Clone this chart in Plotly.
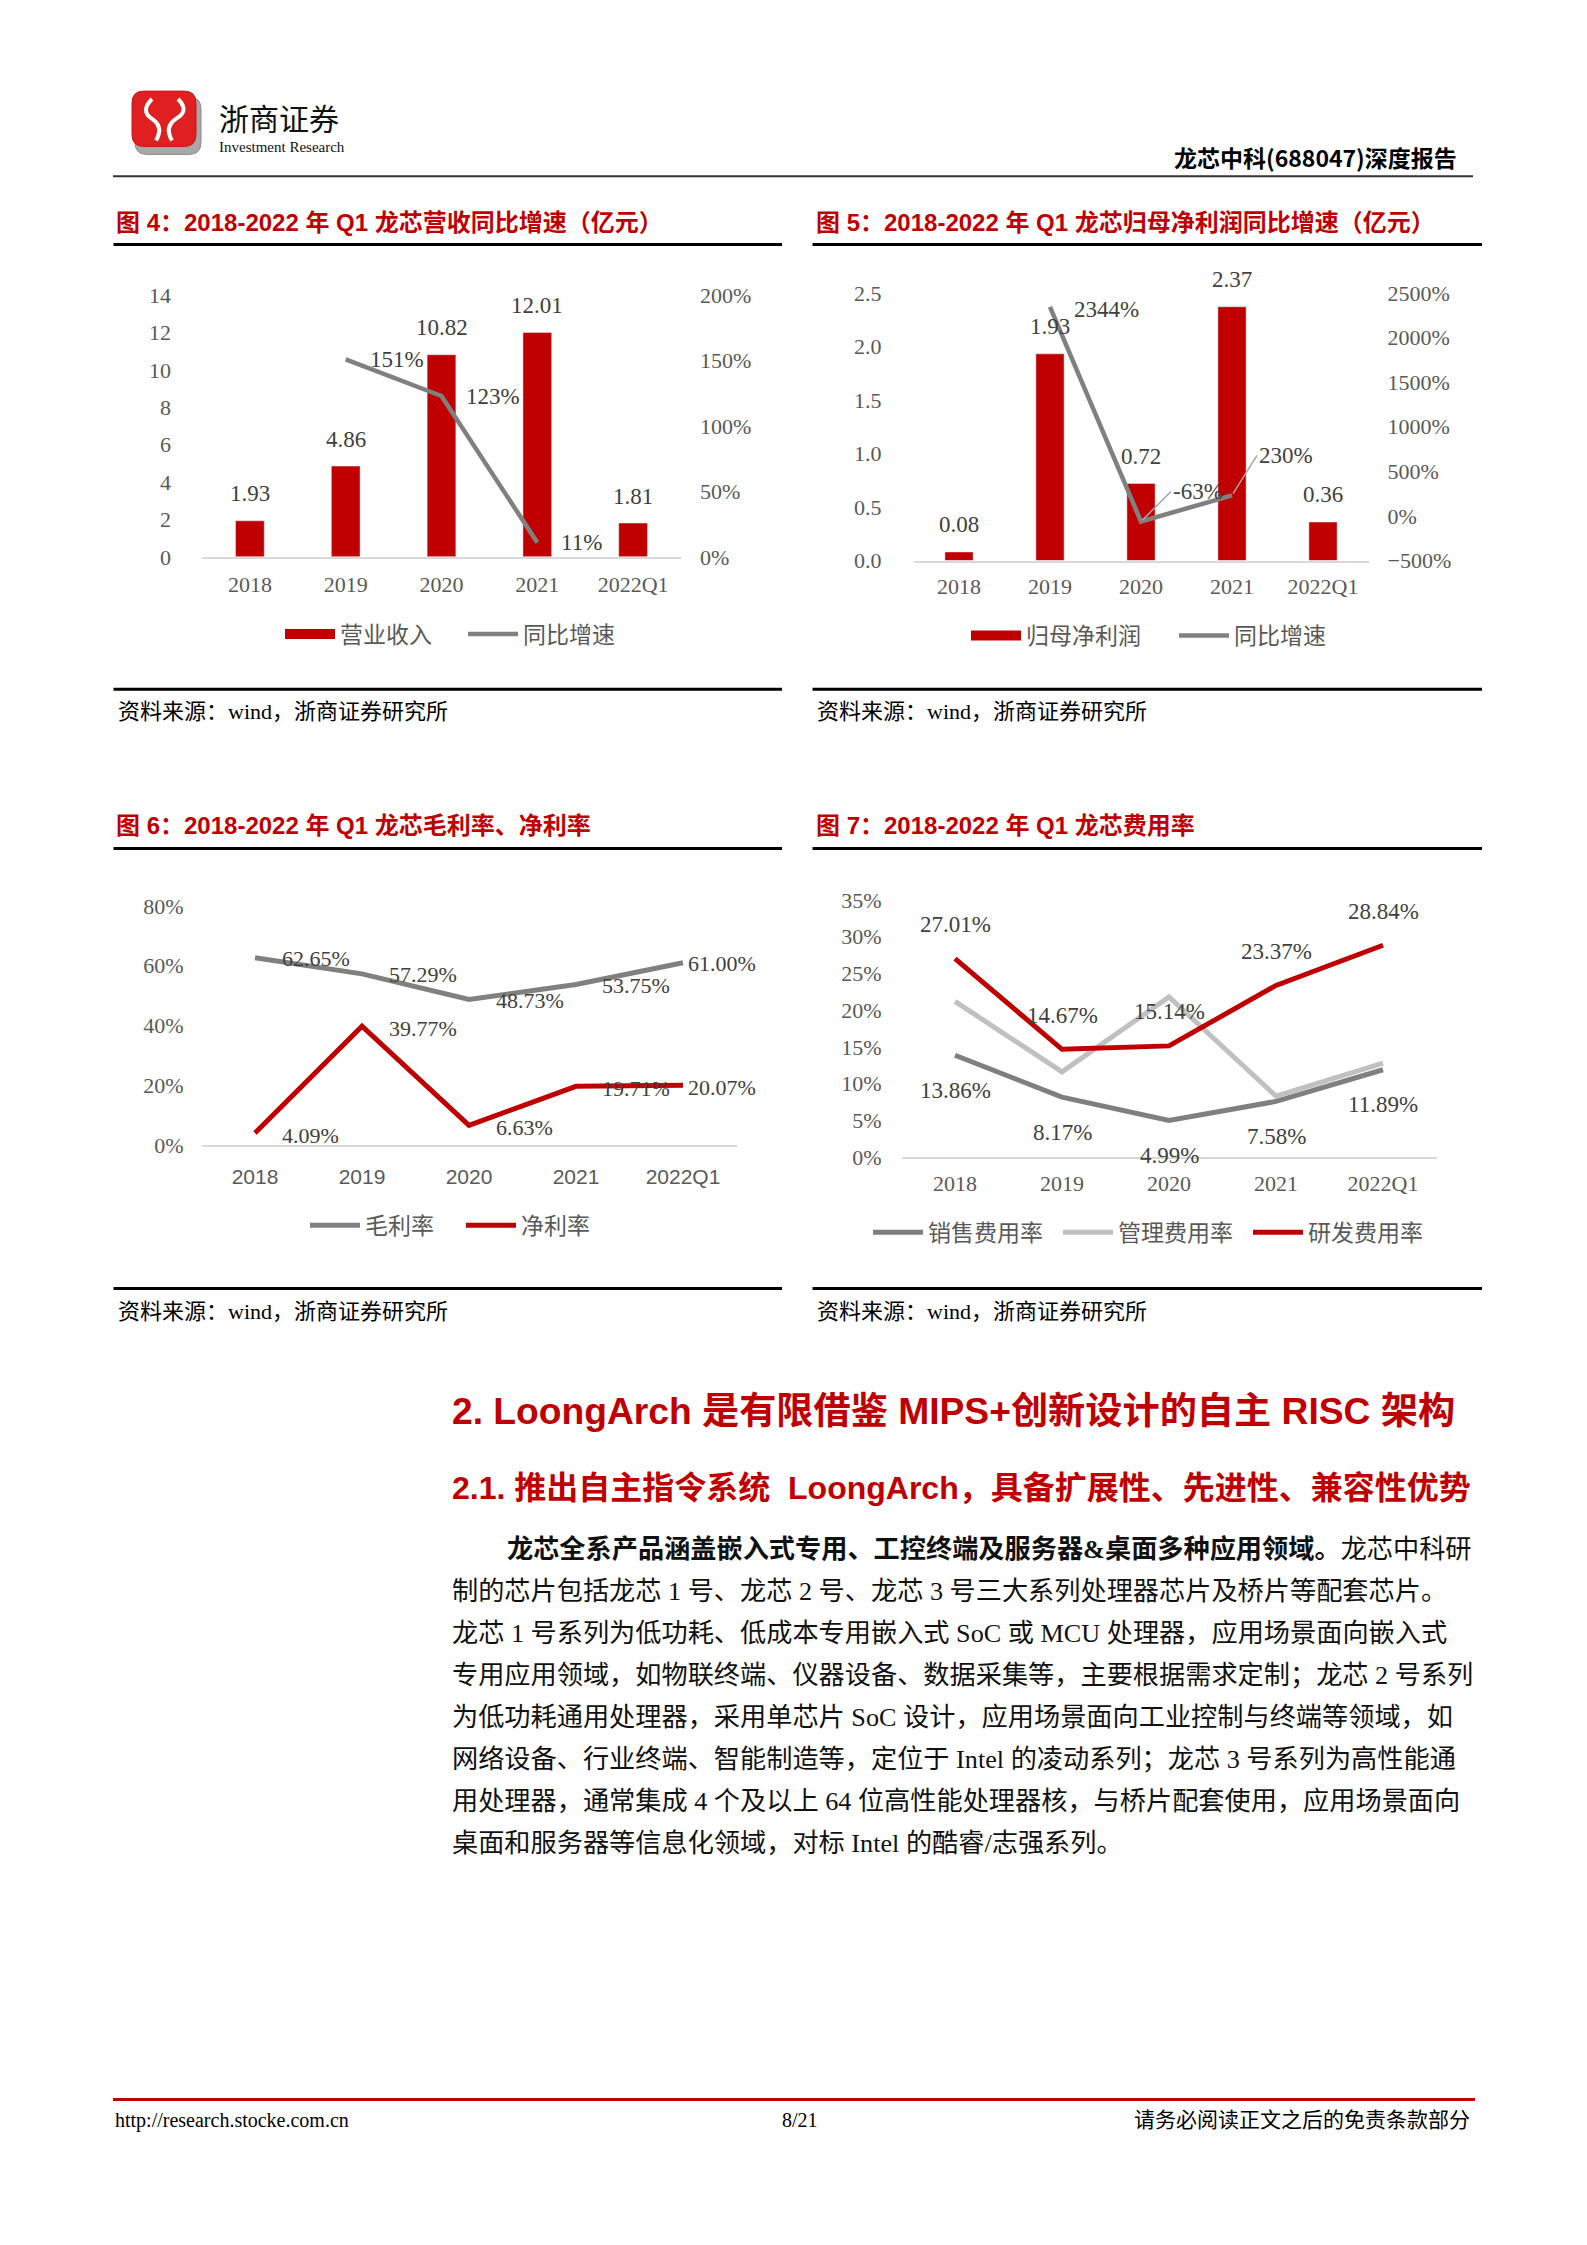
import plotly.graph_objects as go

W, H = 1587, 2245


def px(x):
    return x / W


def py(y):
    return 1 - y / H


# ---------------- data ----------------
years = ["2018", "2019", "2020", "2021", "2022Q1"]
revenue = [1.93, 4.86, 10.82, 12.01, 1.81]
revenue_yoy_years = ["2019", "2020", "2021"]
revenue_yoy = [151, 123, 11]

profit = [0.08, 1.93, 0.72, 2.37, 0.36]
profit_yoy_years = ["2019", "2020", "2021"]
profit_yoy = [2344, -63, 230]

gross_margin = [62.65, 57.29, 48.73, 53.75, 61.00]
net_margin = [4.09, 39.77, 6.63, 19.71, 20.07]

sales_rate = [13.86, 8.17, 4.99, 7.58, 11.89]
admin_rate = [21.2, 11.6, 21.8, 8.3, 12.8]
rd_rate = [27.01, 14.67, 15.14, 23.37, 28.84]

# ---------------- styles ----------------
RED = "#C00000"
GRAY = "#808080"
DGRAY = "#7F7F7F"
LGRAY = "#C0C0C0"
TICK = "#595959"
LBL = "#404040"
SERIF = "Liberation Serif, Noto Sans CJK SC"
SANS = "Liberation Sans, Noto Sans CJK SC"
CJK = "Noto Sans CJK SC"

fig = go.Figure()

# ---- Figure 4 ----
fig.add_trace(go.Bar(x=years, y=revenue, name="营业收入", marker_color=RED, width=0.3,
                     xaxis="x", yaxis="y", showlegend=False))
fig.add_trace(go.Scatter(x=[None], y=[None], name="营业收入", mode="lines",
                         line=dict(color=RED, width=10), xaxis="x", yaxis="y", legend="legend"))
fig.add_trace(go.Scatter(x=revenue_yoy_years, y=revenue_yoy, name="同比增速", mode="lines",
                         line=dict(color=GRAY, width=4.5), xaxis="x", yaxis="y2", legend="legend"))

# ---- Figure 5 ----
fig.add_trace(go.Bar(x=years, y=profit, name="归母净利润", marker_color=RED, width=0.31,
                     xaxis="x2", yaxis="y3", showlegend=False))
fig.add_trace(go.Scatter(x=[None], y=[None], name="归母净利润", mode="lines",
                         line=dict(color=RED, width=10), xaxis="x2", yaxis="y3", legend="legend2"))
fig.add_trace(go.Scatter(x=profit_yoy_years, y=profit_yoy, name="同比增速", mode="lines",
                         line=dict(color=GRAY, width=4.5), xaxis="x2", yaxis="y4", legend="legend2"))

# ---- Figure 6 ----
fig.add_trace(go.Scatter(x=years, y=gross_margin, name="毛利率", mode="lines",
                         line=dict(color=GRAY, width=5), xaxis="x3", yaxis="y5", legend="legend3"))
fig.add_trace(go.Scatter(x=years, y=net_margin, name="净利率", mode="lines",
                         line=dict(color=RED, width=5), xaxis="x3", yaxis="y5", legend="legend3"))

# ---- Figure 7 ----
fig.add_trace(go.Scatter(x=years, y=sales_rate, name="销售费用率", mode="lines",
                         line=dict(color=DGRAY, width=5), xaxis="x4", yaxis="y6", legend="legend4"))
fig.add_trace(go.Scatter(x=years, y=admin_rate, name="管理费用率", mode="lines",
                         line=dict(color=LGRAY, width=5), xaxis="x4", yaxis="y6", legend="legend4"))
fig.add_trace(go.Scatter(x=years, y=rd_rate, name="研发费用率", mode="lines",
                         line=dict(color=RED, width=5), xaxis="x4", yaxis="y6", legend="legend4"))


def xax(x0, x1, anchor, font_family=SERIF, size=22, standoff=6):
    return dict(domain=[px(x0), px(x1)], anchor=anchor, type="category",
                categoryorder="array", categoryarray=years, range=[-0.5, 4.5],
                showline=True, linecolor="#D9D9D9", linewidth=2, ticks="",
                showgrid=False, zeroline=False, fixedrange=True,
                tickfont=dict(family=font_family, size=size, color=TICK),
                ticklabelstandoff=standoff)


def yax(y0, y1, anchor, rng, dtick, standoff, **kw):
    d = dict(domain=[py(y0), py(y1)], anchor=anchor, range=rng, dtick=dtick,
             showgrid=False, zeroline=False, showline=False, ticks="", fixedrange=True,
             tickfont=dict(family=SERIF, size=22, color=TICK), ticklabelstandoff=standoff)
    d.update(kw)
    return d


def yax_r(overlay, anchor, rng, dtick, standoff, **kw):
    d = dict(overlaying=overlay, side="right", anchor=anchor, range=rng, dtick=dtick,
             showgrid=False, zeroline=False, showline=False, ticks="", fixedrange=True,
             tickfont=dict(family=SERIF, size=22, color=TICK), ticklabelstandoff=standoff)
    d.update(kw)
    return d


ann = []


def text(x, y, t, size, color="#000000", family=CJK, xanchor="left"):
    ann.append(dict(x=px(x), y=py(y), xref="paper", yref="paper", text=t, showarrow=False,
                    xanchor=xanchor, yanchor="middle",
                    font=dict(family=family, size=size, color=color)))


def dlabel(xref, yref, xv, yv, t, size, xanchor="center", xshift=0, yshift=0):
    ann.append(dict(x=xv, y=yv, xref=xref, yref=yref, text=t, showarrow=False,
                    xanchor=xanchor, yanchor="middle", xshift=xshift, yshift=yshift,
                    font=dict(family=SERIF, size=size, color=LBL)))


def idx(c):
    return years.index(c)


# data labels figure 4
for c, v in zip(years, revenue):
    dlabel("x", "y", idx(c), v, f"{v:.2f}", 23, yshift=27)
for c, v in zip(revenue_yoy_years, revenue_yoy):
    dlabel("x", "y2", idx(c), v, f"{v}%", 23, xanchor="left", xshift=22)

# data labels figure 5
for c, v in zip(years, profit):
    dlabel("x2", "y3", idx(c), v, f"{v:.2f}", 23, yshift=27)
yoy5_offsets = [(22, -3, False), (30, 30, True), (25, 40, True)]
for (c, v), (dx, dy, arrow) in zip(zip(profit_yoy_years, profit_yoy), yoy5_offsets):
    if arrow:
        ann.append(dict(x=idx(c), y=v, xref="x2", yref="y4", text=f"{v}%", showarrow=True,
                        arrowhead=0, arrowwidth=1.5, arrowcolor="#A6A6A6", ax=dx, ay=-dy,
                        xanchor="left", yanchor="middle", standoff=2,
                        font=dict(family=SERIF, size=23, color=LBL)))
    else:
        dlabel("x2", "y4", idx(c), v, f"{v}%", 23, xanchor="left", xshift=dx, yshift=dy)

# data labels figure 6
f6_dx = [25, 25, 25, 24, 3]
for c, v, dx in zip(years, gross_margin, f6_dx):
    dlabel("x3", "y5", idx(c), v, f"{v:.2f}%", 22, xanchor="left", xshift=dx, yshift=-1)
for c, v, dx in zip(years, net_margin, f6_dx):
    dlabel("x3", "y5", idx(c), v, f"{v:.2f}%", 22, xanchor="left", xshift=dx, yshift=-2)

# data labels figure 7
for c, v in zip(years, rd_rate):
    dlabel("x4", "y6", idx(c), v, f"{v:.2f}%", 23, yshift=34)
for c, v in zip(years, sales_rate):
    dlabel("x4", "y6", idx(c), v, f"{v:.2f}%", 23, yshift=-35)

# ---------------- page texts ----------------
text(217, 106, "浙商证券", 30, "#111111", CJK)
text(217, 137, "Investment Research", 15, "#111111", "Liberation Serif")
text(1459, 147, "<b>龙芯中科(688047)深度报告</b>", 23, "#000000", CJK, xanchor="right")

titles = [
    (113.5, 212.5, "图 4：2018-2022 年 Q1 龙芯营收同比增速（亿元）"),
    (813.5, 212.5, "图 5：2018-2022 年 Q1 龙芯归母净利润同比增速（亿元）"),
    (113.5, 823, "图 6：2018-2022 年 Q1 龙芯毛利率、净利率"),
    (813.5, 823, "图 7：2018-2022 年 Q1 龙芯费用率"),
]
for x, y, t in titles:
    text(x, y, f"<b>{t}</b>", 24, RED, SANS)

for x, y in [(116, 707), (815, 707), (116, 1314), (815, 1314)]:
    text(x, y, "资料来源：wind，浙商证券研究所", 22, "#000000", SERIF)

text(450, 1415, "<b>2. LoongArch 是有限借鉴 MIPS+创新设计的自主 RISC 架构</b>", 37.2, RED, SANS)
text(450, 1493, "<b>2.1. 推出自主指令系统  LoongArch，具备扩展性、先进性、兼容性优势</b>", 32, RED, SANS)

body = [
    "<b>龙芯全系产品涵盖嵌入式专用、工控终端及服务器&amp;桌面多种应用领域。</b>龙芯中科研",
    "制的芯片包括龙芯 1 号、龙芯 2 号、龙芯 3 号三大系列处理器芯片及桥片等配套芯片。",
    "龙芯 1 号系列为低功耗、低成本专用嵌入式 SoC 或 MCU 处理器，应用场景面向嵌入式",
    "专用应用领域，如物联终端、仪器设备、数据采集等，主要根据需求定制；龙芯 2 号系列",
    "为低功耗通用处理器，采用单芯片 SoC 设计，应用场景面向工业控制与终端等领域，如",
    "网络设备、行业终端、智能制造等，定位于 Intel 的凌动系列；龙芯 3 号系列为高性能通",
    "用处理器，通常集成 4 个及以上 64 位高性能处理器核，与桥片配套使用，应用场景面向",
    "桌面和服务器等信息化领域，对标 Intel 的酷睿/志强系列。",
]
for i, line in enumerate(body):
    x0 = 505 if i == 0 else 450
    text(x0, 1555 + i * 42.4, line, 26.2, "#111111", SERIF)

text(113, 2132, "http://research.stocke.com.cn", 20, "#000000", "Liberation Serif")
text(800, 2132, "8/21", 20, "#000000", "Liberation Serif", xanchor="center")
text(1472, 2132, "请务必阅读正文之后的免责条款部分", 21, "#000000", SERIF, xanchor="right")

# ---------------- shapes ----------------
shapes = []


def hline(x0, x1, y, color, width):
    shapes.append(dict(type="line", xref="paper", yref="paper", x0=px(x0), x1=px(x1),
                       y0=py(y), y1=py(y), line=dict(color=color, width=width)))


hline(113, 1473, 166, "#333333", 2)
hline(113, 1475, 2111, RED, 3)
for x0, x1 in [(113.5, 782), (812.5, 1482)]:
    hline(x0, x1, 235, "#000000", 3)
    hline(x0, x1, 685, "#000000", 3)
    hline(x0, x1, 846, "#000000", 3)
    hline(x0, x1, 1291, "#000000", 3)


def P(cmds):
    out = []
    for c in cmds:
        if isinstance(c, str):
            out.append(c)
        else:
            out.append(f"{px(c[0]):.5f},{py(c[1]):.5f}")
    return " ".join(out)


def rrect(x0, y0, x1, y1, r):
    return P(["M", (x0 + r, y0), "L", (x1 - r, y0), "Q", (x1, y0), (x1, y0 + r),
              "L", (x1, y1 - r), "Q", (x1, y1), (x1 - r, y1), "L", (x0 + r, y1),
              "Q", (x0, y1), (x0, y1 - r), "L", (x0, y0 + r), "Q", (x0, y0), (x0 + r, y0), "Z"])


# logo
shapes.append(dict(type="path", xref="paper", yref="paper", path=rrect(135, 86, 201, 144, 12),
                   fillcolor="#A8A8A8", line=dict(color="#8C8C8C", width=1)))
shapes.append(dict(type="path", xref="paper", yref="paper", path=rrect(132, 80, 196, 136, 12),
                   fillcolor="#E02020", line=dict(color="#C81818", width=1)))
shapes.append(dict(type="path", xref="paper", yref="paper",
                   path=P(["M", (152, 88), "Q", (140, 100), (152, 108), "Q", (164, 116), (156, 130)]),
                   line=dict(color="white", width=4)))
shapes.append(dict(type="path", xref="paper", yref="paper",
                   path=P(["M", (178, 88), "Q", (190, 100), (176, 108), "Q", (164, 116), (172, 130)]),
                   line=dict(color="white", width=4)))

legend_common = dict(orientation="h", xanchor="left", yanchor="middle", bgcolor="rgba(0,0,0,0)",
                     font=dict(family=SERIF, size=23, color=TICK), itemwidth=50,
                     traceorder="normal", entrywidthmode="pixels")

fig.update_layout(
    width=W, height=H, margin=dict(l=0, r=0, t=0, b=0, pad=0),
    paper_bgcolor="white", plot_bgcolor="rgba(0,0,0,0)",
    showlegend=True, hovermode=False,
    xaxis=xax(202, 681, "y", standoff=7),
    yaxis=yax(551, 286.5, "x", [0, 14], 2, 30),
    yaxis2=yax_r("y", "x", [0, 200], 50, 18, ticksuffix="%"),
    xaxis2=xax(913.5, 1368.5, "y3", standoff=5),
    yaxis3=yax(554.7, 284, "x2", [0, 2.5], 0.5, 31, tickformat=".1f"),
    yaxis4=yax_r("y3", "x2", [-500, 2500], 500, 18, ticksuffix="%"),
    xaxis3=xax(201.5, 736.5, "y5", font_family=SANS, size=21, standoff=12),
    yaxis5=yax(1146, 904, "x3", [0, 80], 20, 17, ticksuffix="%"),
    xaxis4=xax(901.5, 1436.5, "y6", standoff=5),
    yaxis6=yax(1158, 898, "x4", [0, 35], 5, 19, ticksuffix="%"),
    legend=dict(x=px(280), y=py(629), entrywidth=118, **legend_common),
    legend2=dict(x=px(966), y=py(630.5), entrywidth=143, **legend_common),
    legend3=dict(x=px(305), y=py(1227), entrywidth=91, **legend_common),
    legend4=dict(x=px(868), y=py(1234), entrywidth=125, **legend_common),
    annotations=ann,
    shapes=shapes,
)

fig.write_html("out.html", config={"displayModeBar": False, "staticPlot": True},
               post_script="document.body.style.margin='0';document.body.style.overflow='hidden';")
